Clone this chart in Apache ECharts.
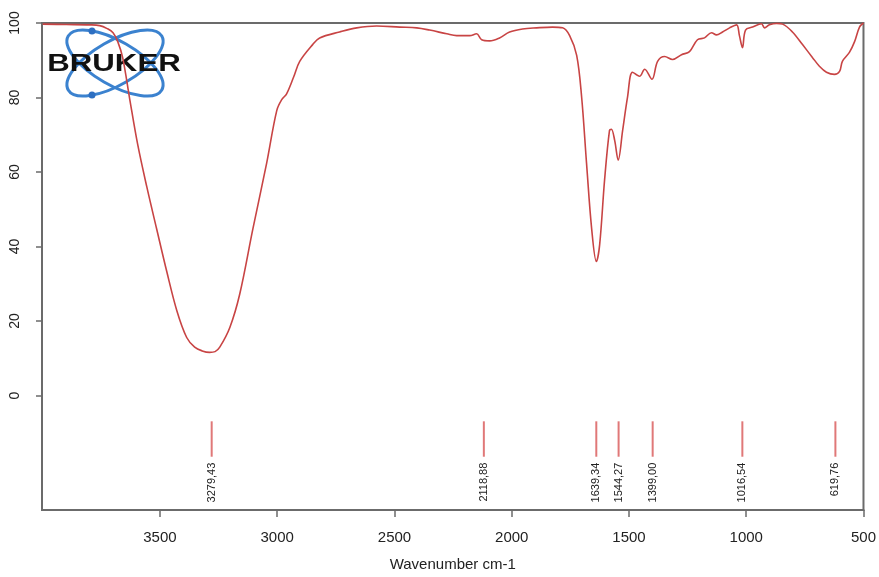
<!DOCTYPE html>
<html>
<head>
<meta charset="utf-8">
<script src="https://cdn.jsdelivr.net/npm/echarts@6/dist/echarts.min.js"></script>
<style>
html,body{margin:0;padding:0;background:#fff;}
#chart{width:879px;height:577px;}
</style>
</head>
<body>
<div id="chart"></div>
<script>
// Wavenumbers (cm-1) and transmittance (%)
const wavenumbers = [4000,3900,3800,3757,3725,3700,3680,3659,3629,3595,3556,3514,3471,3428,3386,3352,3320,3288,3265,3245,3202,3160,3104,3045,3002,2980,2960,2930,2904,2849,2819,2734,2661,2576,2478,2405,2350,2277,2235,2179,2150,2128,2094,2052,2009,1954,1894,1826,1783,1753,1723,1702,1681,1659,1639,1625,1604,1583,1575,1561,1546,1527,1506,1485,1455,1433,1402,1378,1348,1314,1276,1242,1208,1178,1148,1127,1101,1071,1041,1029,1016,1003,973,935,922,901,871,845,803,760,717,688,658,624,602,590,560,538,517,500];
const transmittance = [99.7,99.6,99.5,99.3,98.5,97.4,95.0,90.7,79.6,67.4,56.0,44.7,33.3,22.8,15.6,13.0,12.0,11.6,11.8,13.0,18.3,27.2,44.7,62.4,76.5,79.5,81.0,85.5,89.7,94.2,96.0,97.6,98.7,99.2,98.9,98.7,98.1,97.1,96.6,96.6,97.1,95.5,95.2,96.0,97.6,98.4,98.7,98.9,98.7,96.6,91.3,80.2,62.4,44.7,36.0,40.5,57.9,71.2,71.5,68.5,63.2,71.2,80.2,86.8,85.7,87.6,84.9,89.7,91.0,90.2,91.5,92.3,95.5,96.0,97.4,96.8,97.6,98.7,99.5,96.6,93.4,98.1,98.9,99.8,98.7,99.5,99.9,99.7,97.6,94.2,90.7,88.4,86.8,86.2,87.0,89.7,92.1,95.0,98.9,100];
// Peak picks
const peaks = [3279.43, 2118.88, 1639.34, 1544.27, 1399.00, 1016.54, 619.76];
// Tick values
const xTicks = [500,1000,1500,2000,2500,3000,3500];
const yTicks = [0,20,40,60,80,100];

const spectrum = wavenumbers.map((w, i) => [w, transmittance[i]]);
const peakData = peaks.map(p => [p, 0]);

const chart = echarts.init(document.getElementById('chart'), null, {renderer: 'canvas'});
const axisGray = '#6b6b6b';
const font = '"Liberation Sans", Arial, sans-serif';

chart.setOption({
  animation: false,
  backgroundColor: '#ffffff',
  grid: {left: 42, right: 15, top: 23, bottom: 60, show: true, borderColor: axisGray, borderWidth: 2, backgroundColor: 'transparent'},
  xAxis: {
    type: 'value', inverse: true, min: 500, max: 4003,
    name: 'Wavenumber cm-1', nameLocation: 'middle', nameGap: 47,
    nameTextStyle: {fontFamily: font, fontSize: 15, color: '#222'},
    axisLine: {show: true, onZero: false, lineStyle: {color: axisGray, width: 2}},
    axisTick: {show: true, length: 7, lineStyle: {color: axisGray, width: 1.5}, customValues: xTicks},
    axisLabel: {fontFamily: font, fontSize: 15, color: '#222', margin: 20, customValues: xTicks, formatter: v => String(v)},
    splitLine: {show: false}
  },
  yAxis: {
    type: 'value', min: -30.7, max: 100,
    axisLine: {show: true, onZero: false, lineStyle: {color: axisGray, width: 2}},
    axisTick: {show: true, length: 6, lineStyle: {color: axisGray, width: 1.5}, customValues: yTicks},
    axisLabel: {fontFamily: font, fontSize: 14, color: '#222', rotate: 90, margin: 20, customValues: yTicks, formatter: v => String(v)},
    splitLine: {show: false}
  },
  graphic: [
    {
      type: 'group', x: 115, y: 63, z: 0,
      children: [
        {type: 'ellipse', shape: {cx: 0, cy: 0, rx: 54, ry: 22}, rotation: -Math.PI / 6, style: {fill: 'none', stroke: '#3b82cf', lineWidth: 3}},
        {type: 'ellipse', shape: {cx: 0, cy: 0, rx: 54, ry: 22}, rotation: Math.PI / 6, style: {fill: 'none', stroke: '#3b82cf', lineWidth: 3}},
        {type: 'circle', shape: {cx: -23, cy: -32, r: 3.5}, style: {fill: '#2d6fc2'}},
        {type: 'circle', shape: {cx: -23, cy: 32, r: 3.5}, style: {fill: '#2d6fc2'}},
        {type: 'text', x: -1, y: 1, scaleX: 1.3, style: {text: 'BRUKER', fill: '#111', font: 'bold 24px "Liberation Sans", Arial, sans-serif', align: 'center', verticalAlign: 'middle'}}
      ]
    }
  ],
  series: [
    {
      type: 'line', data: spectrum, showSymbol: false, smooth: 0.35, z: 3,
      lineStyle: {color: '#c84444', width: 1.6}
    },
    {
      type: 'custom', data: peakData, z: 3,
      renderItem: function (params, api) {
        const w = api.value(0);
        const p1 = api.coord([w, -6.9]);
        const p2 = api.coord([w, -16.4]);
        const p3 = api.coord([w, -18.0]);
        return {
          type: 'group',
          children: [
            {type: 'line', shape: {x1: p1[0], y1: p1[1], x2: p2[0], y2: p2[1]}, style: {stroke: '#e07878', lineWidth: 2}},
            {type: 'text', x: p3[0], y: p3[1], rotation: Math.PI / 2,
             style: {text: w.toFixed(2).replace('.', ','), fill: '#222', font: '11px "Liberation Sans", Arial, sans-serif', align: 'right', verticalAlign: 'middle'}}
          ]
        };
      }
    }
  ]
});
</script>
</body>
</html>
